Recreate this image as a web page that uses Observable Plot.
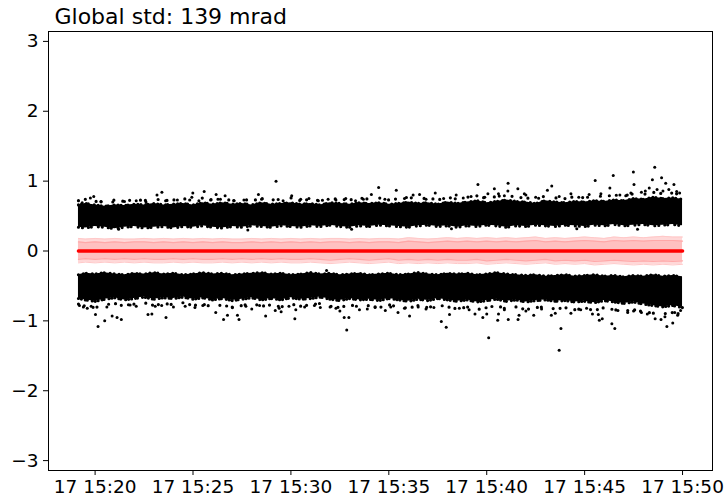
<!DOCTYPE html>
<html>
<head>
<meta charset="utf-8">
<script src="https://cdn.jsdelivr.net/npm/d3@7"></script>
<script src="https://cdn.jsdelivr.net/npm/@observablehq/plot@0.6"></script>
<style>
  body { margin: 0; background: #fff; }
  svg { font-family: "DejaVu Sans", sans-serif; }
</style>
</head>
<body>
<div id="chart"></div>
<script>
// ---- data (minutes after 15:00 on day 17) ----
const titleText = "Global std: 139 mrad";
const baseDay = "2024-01-17T15:00:00Z";
const xDomainMin = [17.62, 51.53];
const yDomain = [-3.1416, 3.1416];
const yTicks = [-3, -2, -1, 0, 1, 2, 3];
const xTickMin = [20, 25, 30, 35, 40, 45, 50];

const tGrid = [
  19.15, 19.5, 20, 20.5, 21, 21.5, 22, 22.5, 23, 23.5,
  24, 24.5, 25, 25.5, 26, 26.5, 27, 27.5, 28, 28.5,
  29, 29.5, 30, 30.5, 31, 31.5, 32, 32.5, 33, 33.5,
  34, 34.5, 35, 35.5, 36, 36.5, 37, 37.5, 38, 38.5,
  39, 39.5, 40, 40.5, 41, 41.5, 42, 42.5, 43, 43.5,
  44, 44.5, 45, 45.5, 46, 46.5, 47, 47.5, 48, 48.5,
  49, 49.5, 50
];
const upperTop = [
  0.66,0.68,0.66,0.64,0.66,0.65,0.67,0.66,0.68,0.66,
  0.67,0.68,0.66,0.69,0.67,0.69,0.67,0.68,0.66,0.69,
  0.67,0.68,0.69,0.67,0.68,0.66,0.69,0.68,0.67,0.69,
  0.68,0.69,0.67,0.68,0.70,0.68,0.69,0.67,0.70,0.68,
  0.70,0.72,0.69,0.71,0.73,0.71,0.70,0.68,0.72,0.70,
  0.69,0.71,0.70,0.72,0.71,0.73,0.72,0.75,0.74,0.77,
  0.75,0.76,0.74
];
const upperFringe = [
  0.72,0.74,0.71,0.70,0.73,0.71,0.74,0.72,0.75,0.72,
  0.73,0.75,0.72,0.76,0.73,0.75,0.72,0.74,0.72,0.75,
  0.73,0.74,0.76,0.72,0.74,0.72,0.75,0.74,0.73,0.76,
  0.74,0.76,0.73,0.75,0.77,0.74,0.76,0.73,0.77,0.74,
  0.77,0.79,0.75,0.78,0.80,0.77,0.76,0.74,0.79,0.76,
  0.75,0.78,0.76,0.79,0.78,0.80,0.79,0.82,0.81,0.84,
  0.82,0.83,0.80
];
const upperBottom = [
  0.34,0.33,0.35,0.34,0.32,0.34,0.35,0.33,0.34,0.35,
  0.33,0.35,0.34,0.36,0.34,0.33,0.35,0.34,0.36,0.35,
  0.34,0.36,0.35,0.34,0.36,0.35,0.37,0.35,0.34,0.36,
  0.35,0.37,0.36,0.35,0.34,0.36,0.37,0.35,0.36,0.34,
  0.36,0.35,0.37,0.36,0.34,0.36,0.35,0.37,0.36,0.35,
  0.37,0.36,0.35,0.37,0.36,0.38,0.36,0.37,0.38,0.36,
  0.37,0.38,0.36
];
const lowerTop = [
  -0.34,-0.32,-0.33,-0.31,-0.33,-0.34,-0.32,-0.33,-0.31,-0.33,
  -0.32,-0.34,-0.33,-0.31,-0.33,-0.32,-0.34,-0.33,-0.32,-0.31,
  -0.33,-0.32,-0.34,-0.33,-0.31,-0.33,-0.32,-0.34,-0.33,-0.32,
  -0.34,-0.33,-0.32,-0.34,-0.33,-0.31,-0.33,-0.34,-0.32,-0.33,
  -0.32,-0.34,-0.33,-0.31,-0.33,-0.34,-0.35,-0.34,-0.36,-0.35,
  -0.34,-0.36,-0.35,-0.34,-0.36,-0.35,-0.37,-0.35,-0.36,-0.34,
  -0.36,-0.35,-0.37
];
const lowerBottom = [
  -0.68,-0.70,-0.72,-0.69,-0.67,-0.70,-0.68,-0.66,-0.69,-0.67,
  -0.68,-0.66,-0.69,-0.67,-0.70,-0.68,-0.71,-0.69,-0.67,-0.70,
  -0.68,-0.70,-0.67,-0.69,-0.68,-0.66,-0.69,-0.71,-0.68,-0.70,
  -0.69,-0.71,-0.68,-0.70,-0.72,-0.69,-0.71,-0.68,-0.70,-0.72,
  -0.70,-0.73,-0.71,-0.69,-0.72,-0.70,-0.73,-0.71,-0.70,-0.72,
  -0.71,-0.73,-0.72,-0.74,-0.71,-0.73,-0.75,-0.73,-0.76,-0.78,
  -0.80,-0.78,-0.81
];
const lowerFringe = [
  -0.76,-0.79,-0.81,-0.77,-0.75,-0.79,-0.76,-0.74,-0.78,-0.75,
  -0.77,-0.74,-0.78,-0.76,-0.80,-0.77,-0.81,-0.78,-0.75,-0.79,
  -0.77,-0.80,-0.76,-0.79,-0.77,-0.75,-0.79,-0.81,-0.77,-0.80,
  -0.78,-0.81,-0.77,-0.80,-0.82,-0.78,-0.81,-0.77,-0.80,-0.83,
  -0.80,-0.84,-0.81,-0.78,-0.83,-0.80,-0.84,-0.81,-0.80,-0.83,
  -0.81,-0.84,-0.82,-0.85,-0.81,-0.84,-0.86,-0.84,-0.87,-0.89,
  -0.90,-0.88,-0.91
];
const meanPhase = [
  0,0,0,0,0,0,0,0,0,0, 0,0,0,0,0,0,0,0,0,0,
  0,0,0,0,0,0,0,0,0,0, 0,0,0,0,0,0,0,0,0,0,
  0,0,0,0,0,0,0,0,0,0, 0,0,0,0,0,0,0,0,0,0,
  0,0,0
];
const stdOuterHi = [
  0.18,0.17,0.18,0.17,0.18,0.17,0.17,0.18,0.17,0.18,
  0.17,0.18,0.17,0.18,0.17,0.18,0.17,0.17,0.18,0.17,
  0.18,0.17,0.18,0.17,0.18,0.17,0.18,0.18,0.17,0.18,
  0.17,0.18,0.18,0.17,0.19,0.18,0.17,0.18,0.19,0.18,
  0.19,0.18,0.19,0.18,0.19,0.18,0.19,0.20,0.18,0.19,
  0.18,0.19,0.20,0.19,0.18,0.20,0.19,0.20,0.19,0.20,
  0.21,0.20,0.20
];
const stdOuterLo = [
  -0.17,-0.16,-0.17,-0.16,-0.17,-0.16,-0.17,-0.16,-0.17,-0.17,
  -0.16,-0.17,-0.16,-0.17,-0.17,-0.16,-0.17,-0.16,-0.17,-0.16,
  -0.17,-0.16,-0.17,-0.17,-0.16,-0.17,-0.18,-0.17,-0.16,-0.17,
  -0.18,-0.17,-0.16,-0.18,-0.17,-0.18,-0.17,-0.18,-0.17,-0.18,
  -0.18,-0.17,-0.19,-0.18,-0.17,-0.18,-0.19,-0.18,-0.17,-0.19,
  -0.18,-0.19,-0.18,-0.20,-0.19,-0.18,-0.19,-0.20,-0.19,-0.20,
  -0.19,-0.20,-0.19
];
const stdInnerHi = [
  0.13,0.12,0.13,0.12,0.13,0.12,0.13,0.13,0.12,0.13,
  0.12,0.13,0.12,0.13,0.12,0.13,0.12,0.12,0.13,0.12,
  0.13,0.12,0.13,0.12,0.13,0.12,0.13,0.13,0.12,0.13,
  0.12,0.13,0.13,0.12,0.14,0.13,0.12,0.13,0.14,0.13,
  0.14,0.13,0.14,0.13,0.14,0.13,0.14,0.15,0.13,0.14,
  0.13,0.14,0.15,0.14,0.13,0.15,0.14,0.15,0.14,0.15,
  0.15,0.15,0.14
];
const stdInnerLo = [
  -0.12,-0.11,-0.12,-0.11,-0.12,-0.11,-0.12,-0.11,-0.12,-0.12,
  -0.11,-0.12,-0.11,-0.12,-0.12,-0.11,-0.12,-0.11,-0.12,-0.11,
  -0.12,-0.11,-0.12,-0.12,-0.11,-0.12,-0.13,-0.12,-0.11,-0.12,
  -0.13,-0.12,-0.11,-0.13,-0.12,-0.13,-0.12,-0.13,-0.12,-0.13,
  -0.13,-0.12,-0.14,-0.13,-0.12,-0.13,-0.14,-0.13,-0.12,-0.14,
  -0.13,-0.14,-0.13,-0.15,-0.14,-0.13,-0.14,-0.15,-0.14,-0.15,
  -0.14,-0.15,-0.14
];
// scattered samples outside the dense cores [minute, phase]
const upperDots = [
  [19.34,0.69],[19.76,0.76],[19.93,0.78],[20.3,0.71],[20.9,0.70],[21.5,0.71],[22.1,0.72],[22.6,0.70],
  [23.16,0.80],[23.41,0.84],[23.6,0.72],[24.2,0.73],[24.94,0.77],[24.99,0.83],[25.3,0.72],[25.57,0.85],
  [25.9,0.73],[26.18,0.81],[26.4,0.74],[26.64,0.79],[27.1,0.72],[27.6,0.73],[28.34,0.81],[28.5,0.74],
  [29.24,1.00],[29.6,0.72],[30.04,0.79],[30.5,0.74],[30.92,0.75],[31.4,0.72],[31.9,0.74],[32.3,0.73],
  [32.8,0.75],[33.3,0.72],[33.7,0.74],[34.11,0.81],[34.48,0.91],[34.8,0.74],[35.38,0.87],[35.8,0.75],
  [36.24,0.80],[36.57,0.81],[36.9,0.74],[37.37,0.83],[37.8,0.75],[38.44,0.80],[38.8,0.76],[39.2,0.78],
  [39.55,0.95],[39.9,0.77],[40.06,0.82],[40.39,0.89],[40.60,0.82],[40.9,0.79],[41.08,0.86],[41.09,0.97],
  [41.59,0.89],[41.92,0.82],[42.0,0.80],[42.5,0.77],[43.1,0.87],[43.32,0.93],[43.7,0.78],[44.30,0.82],
  [44.7,0.77],[45.23,0.81],[45.54,1.01],[45.83,0.82],[46.29,0.90],[46.46,1.08],[46.8,0.80],[47.1,0.79],
  [47.36,0.83],[47.49,1.13],[47.52,0.95],[47.9,0.84],[48.1,0.86],[48.3,0.90],[48.46,1.02],[48.58,1.20],
  [48.7,0.88],[48.93,1.05],[49.0,0.86],[49.14,0.97],[49.3,0.88],[49.56,0.95],[49.7,0.85],[49.85,0.83],
  [21.2,0.31],[27.8,0.30],[33.1,0.31],[38.2,0.32],[44.6,0.32],[47.7,0.31]
];
const lowerDots = [
  [19.2,-0.78],[19.4,-0.80],[19.6,-0.82],[19.8,-0.79],[20.02,-0.91],[20.15,-1.08],[20.49,-1.00],[20.6,-0.80],
  [20.87,-0.93],[21.12,-0.95],[21.34,-0.98],[21.7,-0.77],[22.1,-0.79],[22.70,-0.91],[22.9,-0.90],[23.07,-0.79],
  [23.4,-0.78],[23.62,-0.95],[24.0,-0.80],[24.6,-0.79],[25.1,-0.81],[25.5,-0.78],[26.16,-0.88],[26.56,-0.98],
  [26.76,-0.92],[27.0,-0.80],[27.27,-0.92],[27.35,-0.98],[27.7,-0.79],[28.0,-0.83],[28.4,-0.78],[28.71,-0.93],
  [29.2,-0.85],[29.4,-0.82],[29.5,-0.87],[29.9,-0.79],[30.2,-0.97],[30.25,-0.84],[30.7,-0.80],[31.2,-0.78],
  [31.5,-0.81],[31.82,-0.28],[32.0,-0.80],[32.3,-0.82],[32.5,-0.86],[32.72,-0.95],[32.85,-1.13],[32.96,-0.95],
  [33.5,-0.84],[33.9,-0.83],[34.3,-0.81],[34.82,-0.85],[35.1,-0.80],[35.47,-0.88],[35.8,-0.82],[36.06,-0.93],
  [36.5,-0.80],[36.9,-0.83],[37.3,-0.81],[37.68,-1.01],[37.93,-1.09],[38.1,-0.91],[38.6,-0.82],[39.1,-0.84],
  [39.4,-0.90],[39.8,-0.95],[40.0,-0.90],[40.10,-1.24],[40.56,-0.99],[40.6,-0.90],[40.9,-0.84],[41.1,-0.98],
  [41.6,-0.98],[41.65,-0.92],[42.0,-0.86],[42.4,-0.92],[42.8,-0.83],[43.3,-0.92],[43.5,-0.89],[43.70,-1.42],
  [43.79,-1.11],[44.3,-0.89],[44.8,-0.84],[45.1,-0.82],[45.4,-0.90],[45.7,-0.91],[45.75,-0.99],[45.9,-0.97],
  [46.39,-1.04],[46.54,-1.11],[46.7,-0.85],[47.2,-0.88],[47.5,-0.86],[47.9,-0.88],[48.2,-0.90],[48.6,-0.97],
  [48.9,-0.98],[49.1,-0.94],[49.2,-1.08],[49.5,-1.03],[49.6,-0.88],[49.75,-0.92],[49.9,-0.85]
];

// ---- build ----
const base = new Date(baseDay).getTime();
const toDate = m => new Date(base + m * 60000);

const rows = tGrid.map((t, i) => ({
  time: toDate(t),
  uTop: upperTop[i], uFr: upperFringe[i], uBot: upperBottom[i],
  lTop: lowerTop[i], lBot: lowerBottom[i], lFr: lowerFringe[i],
  mean: meanPhase[i],
  oHi: stdOuterHi[i], oLo: stdOuterLo[i],
  iHi: stdInnerHi[i], iLo: stdInnerLo[i]
}));
const dots = upperDots.concat(lowerDots).map(([t, v]) => ({time: toDate(t), v}));

const fmt = d3.utcFormat("%d %H:%M");
const edgeDots = (y, dash) => Plot.lineY(rows, {x: "time", y, stroke: "#000", strokeWidth: 3.2, strokeLinecap: "round", strokeDasharray: dash});

const chart = Plot.plot({
  width: 724,
  height: 499,
  marginLeft: 48,
  marginRight: 12,
  marginTop: 31,
  marginBottom: 29,
  style: {fontFamily: "DejaVu Sans, sans-serif", fontSize: "18px", color: "#000", background: "#fff"},
  x: {type: "utc", domain: xDomainMin.map(toDate)},
  y: {domain: yDomain},
  marks: [
    // pink std band
    Plot.areaY(rows, {x: "time", y1: "oLo", y2: "oHi", fill: "#ffd8d8"}),
    Plot.areaY(rows, {x: "time", y1: "iLo", y2: "iHi", fill: "#ffc0c0"}),
    Plot.lineY(rows, {x: "time", y: "iHi", stroke: "#ffa8a8", strokeWidth: 1.2}),
    Plot.lineY(rows, {x: "time", y: "iLo", stroke: "#ffa8a8", strokeWidth: 1.2}),
    Plot.lineY(rows, {x: "time", y: "oHi", stroke: "#ffc8c8", strokeWidth: 1}),
    Plot.lineY(rows, {x: "time", y: "oLo", stroke: "#ffc8c8", strokeWidth: 1}),
    // mean
    Plot.lineY(rows, {x: "time", y: "mean", stroke: "#ff0000", strokeWidth: 3.5}),
    // dense cores
    Plot.areaY(rows, {x: "time", y1: "uBot", y2: "uTop", fill: "#000"}),
    Plot.areaY(rows, {x: "time", y1: "lBot", y2: "lTop", fill: "#000"}),
    // ragged edges of the cores
    edgeDots("uTop", "0,3,0,5,0,2,0,6,0,4"),
    edgeDots("uFr", "0,7,0,11,0,5,0,13,0,9"),
    edgeDots("uBot", "0,4,0,6,0,3,0,7"),
    edgeDots("lTop", "0,5,0,3,0,6,0,4"),
    edgeDots("lBot", "0,3,0,4,0,2,0,5,0,3"),
    edgeDots("lFr", "0,6,0,9,0,4,0,12,0,7"),
    Plot.dot(dots, {x: "time", y: "v", r: 1.5, fill: "#000"}),
    // axes + frame
    Plot.frame({stroke: "#000", strokeWidth: 1}),
    Plot.axisY({ticks: yTicks, tickFormat: d3.format("d"), tickSize: 5, tickPadding: 5, fontSize: 18.5}),
    Plot.axisX({ticks: xTickMin.map(toDate), tickFormat: fmt, tickSize: 5, tickPadding: 4, fontSize: 18.5}),
    Plot.text([titleText], {frameAnchor: "top-left", textAnchor: "start", lineAnchor: "bottom", dx: 6, dy: -8, fontSize: 22})
  ]
});
document.getElementById("chart").appendChild(chart);
</script>
</body>
</html>
